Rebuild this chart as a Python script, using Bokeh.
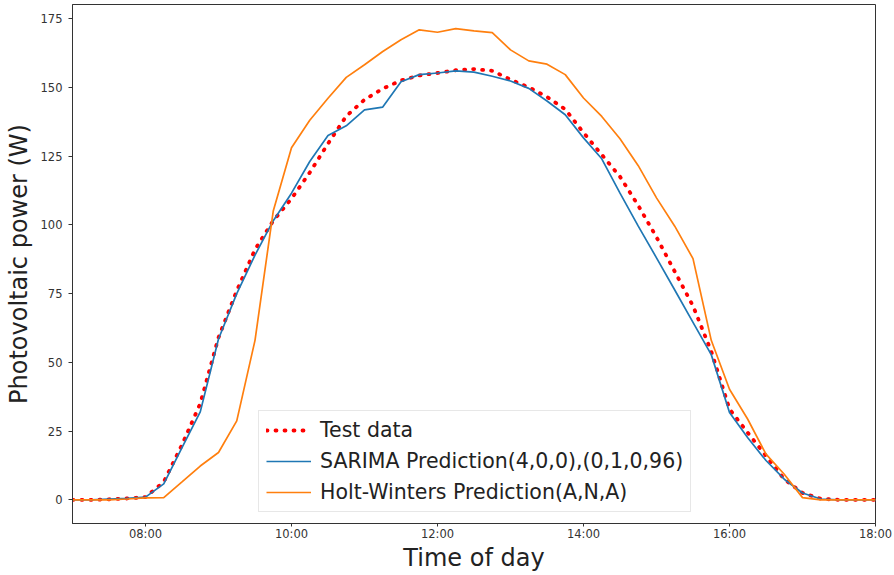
from bokeh.plotting import figure
from bokeh.models import FixedTicker, Range1d, Legend, LegendItem
from bokeh.embed import file_html
from bokeh.resources import INLINE

# ---- data (15-minute steps) ----
times = ["07:00", "07:15", "07:30", "07:45", "08:00", "08:15", "08:30", "08:45",
         "09:00", "09:15", "09:30", "09:45", "10:00", "10:15", "10:30", "10:45",
         "11:00", "11:15", "11:30", "11:45", "12:00", "12:15", "12:30", "12:45",
         "13:00", "13:15", "13:30", "13:45", "14:00", "14:15", "14:30", "14:45",
         "15:00", "15:15", "15:30", "15:45", "16:00", "16:15", "16:30", "16:45",
         "17:00", "17:15", "17:30", "17:45", "18:00"]

test_data = [0, 0, 0.2, 0.5, 1.0, 6.5, 20, 35,
             59, 76, 91, 101.5, 109.5, 119, 129.5, 139.5,
             145.5, 149.5, 152.5, 154.3, 155.2, 156.2, 156.6, 156,
             152.8, 150, 146.5, 142, 133.5, 125.5, 117.5, 107,
             95.5, 83, 70.5, 54, 33, 24.4, 16, 7.5,
             2.5, 0.4, 0, 0, 0]

sarima = [0, 0, 0.3, 0.5, 1.0, 5.8, 19, 32,
          58.5, 75, 89, 101.5, 111.5, 123, 132.5, 136,
          141.8, 142.8, 152, 154.6, 155.2, 156, 155.5, 154,
          152.3, 149.6, 145, 140, 131.6, 124, 111.5, 99.5,
          88, 76.3, 64.5, 52.8, 31.8, 22.6, 14.3, 7.5,
          2.5, 0.3, 0, 0, 0]

holt_winters = [0, 0, 0, 0.3, 0.7, 0.8, 6.5, 12.3,
                17.2, 28.7, 58, 105, 128, 138, 146, 153.6,
                158.2, 163, 167.3, 170.9, 170, 171.3, 170.5, 169.9,
                163.6, 159.6, 158.4, 154.6, 146.1, 139.4, 131.3, 121.5,
                109.8, 99.5, 87.7, 58, 40.2, 29.3, 16.6, 9.3,
                0.8, 0, 0, 0, 0]

x_tick_labels = ["08:00", "10:00", "12:00", "14:00", "16:00", "18:00"]
y_ticks = [0, 25, 50, 75, 100, 125, 150, 175]

series_labels = ["Test data", "SARIMA Prediction(4,0,0),(0,1,0,96)",
                 "Holt-Winters Prediction(A,N,A)"]


def to_hours(s):
    h, m = s.split(":")
    return int(h) + int(m) / 60.0


hours = [to_hours(t) for t in times]
x_ticks = [to_hours(t) for t in x_tick_labels]

FONT = "DejaVu Sans"

p = figure(width=894, height=575, output_backend="svg", toolbar_location=None,
           x_range=Range1d(7, 18), y_range=Range1d(-8.6, 180.1),
           min_border_left=72, min_border_right=19, min_border_top=4,
           min_border_bottom=52, background_fill_color="white")

r_test = p.line(hours, test_data, line_color="#ff0000", line_width=3.8,
                line_dash="1 8", line_cap="round")
r_sar = p.line(hours, sarima, line_color="#1f77b4", line_width=1.7)
r_hw = p.line(hours, holt_winters, line_color="#ff7f0e", line_width=1.7)

p.xgrid.grid_line_color = None
p.ygrid.grid_line_color = None
p.outline_line_color = "#333333"
p.outline_line_width = 1

p.xaxis.ticker = FixedTicker(ticks=x_ticks)
p.xaxis.major_label_overrides = {int(v): lab for v, lab in zip(x_ticks, x_tick_labels)}
p.yaxis.ticker = FixedTicker(ticks=y_ticks)

for ax in (p.xaxis, p.yaxis):
    ax.axis_line_color = "#333333"
    ax.major_tick_line_color = "#333333"
    ax.major_tick_in = 0
    ax.minor_tick_line_color = None
    ax.major_label_text_font = FONT
    ax.major_label_text_font_size = "11.5px"
    ax.major_label_text_color = "#333333"
    ax.axis_label_text_font = FONT
    ax.axis_label_text_font_size = "24px"
    ax.axis_label_text_font_style = "normal"
    ax.axis_label_text_color = "#222222"

p.xaxis.major_tick_out = 3
p.xaxis.major_label_standoff = 0
p.xaxis.axis_label = "Time of day"
p.xaxis.axis_label_standoff = 0
p.yaxis.major_tick_out = 4
p.yaxis.major_label_standoff = 6
p.yaxis.axis_label = "Photovoltaic power (W)"
p.yaxis.axis_label_standoff = 5

legend = Legend(items=[LegendItem(label=series_labels[0], renderers=[r_test]),
                       LegendItem(label=series_labels[1], renderers=[r_sar]),
                       LegendItem(label=series_labels[2], renderers=[r_hw])],
                location=(186, 11))
legend.label_text_font = FONT
legend.label_text_font_size = "20.5px"
legend.label_text_color = "#222222"
legend.glyph_width = 45
legend.glyph_height = 24
legend.label_height = 24
legend.spacing = 7
legend.padding = 7
legend.label_standoff = 9
legend.margin = 0
legend.border_line_color = "#d0d0d0"
legend.background_fill_alpha = 0.85
p.add_layout(legend)

open("out.html", "w").write(file_html(p, INLINE))
